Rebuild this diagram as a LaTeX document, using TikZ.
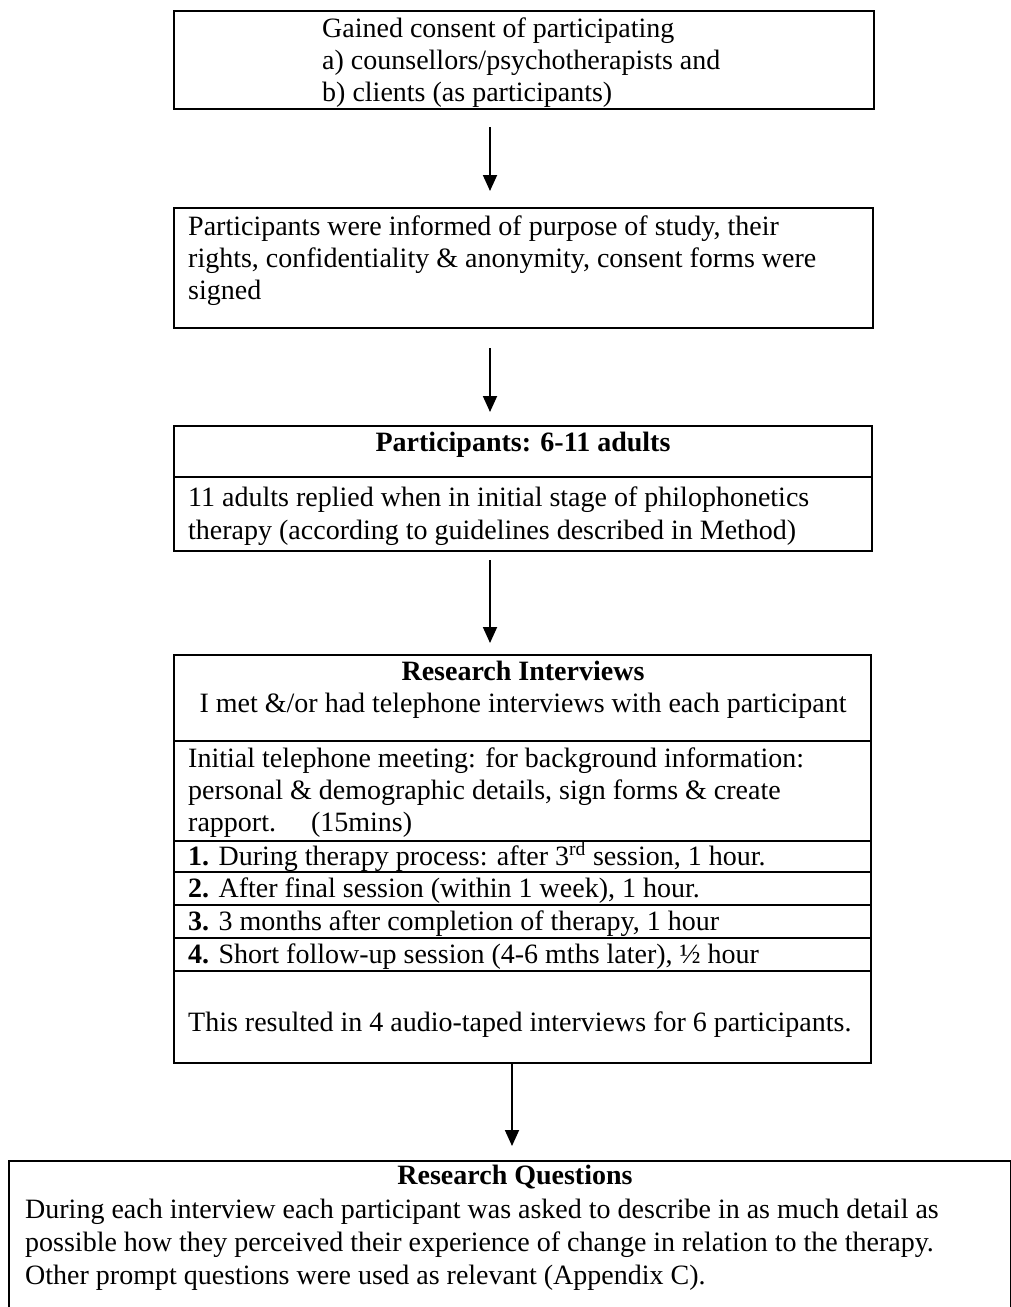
\documentclass[tikz,border=0pt]{standalone}
\usepackage{fontspec}
\setmainfont{Liberation Serif}
\usetikzlibrary{arrows.meta}
\begin{document}
\begin{tikzpicture}[x=1pt,y=-1pt,
  box/.style={draw, line width=1.8pt, anchor=north west, inner sep=0pt},
  txt/.style={anchor=base west, inner sep=0pt, font=\fontsize{28}{32}\selectfont},
  ctxt/.style={anchor=base, inner sep=0pt, font=\fontsize{28}{32}\selectfont},
  arr/.style={line width=1.8pt, -{Triangle[length=16pt,width=14pt]}},
  divider/.style={line width=1.8pt}]
\useasboundingbox (0,0) rectangle (1011,1307);
\fill[white] (0,0) rectangle (1011,1307);

% Box 1
\node[box, minimum width=700, minimum height=98] (b1) at (173,10) {};
\node[txt] (t1a) at (322,37) {Gained consent of participating};
\node[txt] (t1b) at (322,69) {a) counsellors/psychotherapists and};
\node[txt] (t1c) at (322,101) {b) clients (as participants)};

% Box 2
\node[box, minimum width=699, minimum height=120] (b2) at (173,207) {};
\node[txt] (t2a) at (188,235) {Participants were informed of purpose of study, their};
\node[txt] (t2b) at (188,267) {rights, confidentiality \& anonymity, consent forms were};
\node[txt] (t2c) at (188,299) {signed};

% Box 3
\node[box, minimum width=698, minimum height=125] (b3) at (173,425) {};
\draw[divider] (b3.west |- 0,477) -- (b3.east |- 0,477);
\node[ctxt] (t3h) at (523,451) {\textbf{Participants: 6-11 adults}};
\node[txt] (t3a) at (188,506) {11 adults replied when in initial stage of philophonetics};
\node[txt] (t3b) at (188,539) {therapy (according to guidelines described in Method)};

% Box 4
\node[box, minimum width=697, minimum height=408] (b4) at (173,654) {};
\foreach \yy in {741,841,872,905,938,971}
  \draw[divider] (b4.west |- 0,\yy) -- (b4.east |- 0,\yy);
\node[ctxt] (t4h) at (523,680) {\textbf{Research Interviews}};
\node[ctxt] (t4s) at (523,712) {I met \&/or had telephone interviews with each participant};
\node[txt] (t4a) at (188,767) {Initial telephone meeting: for background information:};
\node[txt] (t4b) at (188,799) {personal \& demographic details, sign forms \& create};
\node[txt] (t4c) at (188,831) {rapport.\quad\ (15mins)};
\node[txt] (t4d) at (188,865) {\textbf{1.} During therapy process: after 3\textsuperscript{rd} session, 1 hour.};
\node[txt] (t4e) at (188,897) {\textbf{2.} After final session (within 1 week), 1 hour.};
\node[txt] (t4f) at (188,930) {\textbf{3.} 3 months after completion of therapy, 1 hour};
\node[txt] (t4g) at (188,963) {\textbf{4.} Short follow-up session (4-6 mths later), ½ hour};
\node[txt] (t4h2) at (188,1031) {This resulted in 4 audio-taped interviews for 6 participants.};

% Box 5
\node[box, minimum width=1002, minimum height=170] (b5) at (8,1160) {};
\node[ctxt] (t5h) at (515,1184) {\textbf{Research Questions}};
\node[txt] (t5a) at (25,1218) {During each interview each participant was asked to describe in as much detail as};
\node[txt] (t5b) at (25,1251) {possible how they perceived their experience of change in relation to the therapy.};
\node[txt] (t5c) at (25,1284) {Other prompt questions were used as relevant (Appendix C).};

% Arrows
\coordinate (a1s) at (490,127); \coordinate (a1e) at (490,191);
\coordinate (a2s) at (490,348); \coordinate (a2e) at (490,412);
\coordinate (a3s) at (490,560); \coordinate (a3e) at (490,643);
\coordinate (a4s) at (512,1062); \coordinate (a4e) at (512,1146);
\draw[arr] (a1s) -- (a1e);
\draw[arr] (a2s) -- (a2e);
\draw[arr] (a3s) -- (a3e);
\draw[arr] (a4s) -- (a4e);
\end{tikzpicture}
\end{document}
